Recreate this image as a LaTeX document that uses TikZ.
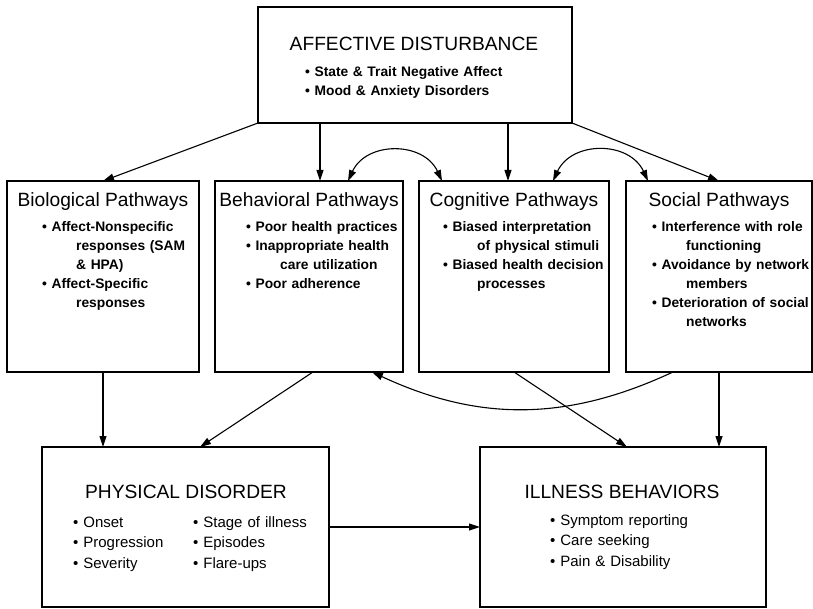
\documentclass[tikz,border=0pt]{standalone}
\usepackage{fontspec}
\setmainfont{Liberation Sans}
\usepackage{tikz}
\usetikzlibrary{positioning}
\usetikzlibrary{arrows.meta}

\tikzset{
  box/.style={draw, line width=1.3pt, inner sep=0pt, outer sep=0pt},
  hdr/.style={font=\fontsize{19.2}{22}\selectfont, inner sep=0pt},
  lst/.style={font=\fontsize{13.8}{19}\selectfont\bfseries, anchor=base west, inner sep=0pt, text width=250pt, align=left},
  bot/.style={font=\fontsize{15}{20.5}\selectfont, anchor=base west, inner sep=0pt, text width=200pt, align=left},
  arr/.style={-{Triangle[length=11pt,width=7pt]}, line width=1.1pt},
  dbl/.style={{Triangle[length=11pt,width=7pt]}-{Triangle[length=11pt,width=7pt]}, line width=1.1pt}
}
\newcommand{\bul}{\makebox[0.68em][l]{\textbullet}}
\newcommand{\cnt}{\hspace*{34pt}}

\begin{document}
\begin{tikzpicture}[x=1pt,y=-1pt]
\useasboundingbox (0,0) rectangle (813,609);
\node[box, minimum width=314pt, minimum height=116pt] (aff) at (415,65) {};
\node[box, minimum width=192pt, minimum height=191pt] (bio) at (103,276.5) {};
\node[box, minimum width=188pt, minimum height=191pt, right=16pt of bio] (beh) {};
\node[box, minimum width=190pt, minimum height=191pt, right=16pt of beh] (cog) {};
\node[box, minimum width=186pt, minimum height=191pt, right=17pt of cog] (soc) {};
\node[box, minimum width=287pt, minimum height=160pt] (phys) at (185.5,527) {};
\node[box, minimum width=286pt, minimum height=160pt] (ill) at (623,527) {};

\node[hdr] (afft) at (414,44) {AFFECTIVE DISTURBANCE};
\node[lst] (affl) at (305,77) {\bul State \& Trait Negative Affect\\ \bul Mood \& Anxiety Disorders};

\node[hdr] (biot) at ([yshift=-21pt]bio.north) {Biological Pathways};
\node[hdr] (beht) at ([yshift=-21pt]beh.north) {Behavioral Pathways};
\node[hdr] (cogt) at ([yshift=-21pt]cog.north) {Cognitive Pathways};
\node[hdr] (soct) at ([yshift=-21pt]soc.north) {Social Pathways};

\node[lst] (biol) at (42,231.5) {\bul Affect-Nonspecific\\ \cnt responses (SAM\\ \cnt \& HPA)\\ \bul Affect-Specific\\ \cnt responses};
\node[lst] (behl) at (246,231.5) {\bul Poor health practices\\ \bul Inappropriate health\\ \cnt care utilization\\ \bul Poor adherence};
\node[lst] (cogl) at (443,231.5) {\bul Biased interpretation\\ \cnt of physical stimuli\\ \bul Biased health decision\\ \cnt processes};
\node[lst] (socl) at (652,231.5) {\bul Interference with role\\ \cnt functioning\\ \bul Avoidance by network\\ \cnt members\\ \bul Deterioration of social\\ \cnt networks};

\node[hdr] (physt) at (186,492) {PHYSICAL DISORDER};
\node[bot] (physa) at (73,527) {\bul Onset\\ \bul Progression\\ \bul Severity};
\node[bot] (physb) at (193,527) {\bul Stage of illness\\ \bul Episodes\\ \bul Flare-ups};
\node[hdr] (illt) at (622,492) {ILLNESS BEHAVIORS};
\node[bot] (illl) at (550,525) {\bul Symptom reporting\\ \bul Care seeking\\ \bul Pain \& Disability};

\draw[arr] (aff.south west) -- (bio.north);
\draw[arr] ([xshift=62pt]aff.south west) -- ([xshift=62pt]aff.south west |- beh.north);
\draw[arr] ([xshift=-64pt]aff.south east) -- ([xshift=-64pt]aff.south east |- cog.north);
\draw[arr] (aff.south east) -- (soc.north);
\draw[dbl] ([xshift=39pt]beh.north) to[bend left=65, looseness=1.2] ([xshift=-72pt]cog.north);
\draw[dbl] ([xshift=39pt]cog.north) to[bend left=65, looseness=1.2] ([xshift=-71pt]soc.north);

\draw[arr] (bio.south) -- (bio.south |- phys.north);
\draw[arr] ([xshift=4pt]beh.south) -- ([xshift=14.5pt]phys.north);
\draw[arr] (cog.south) -- ([xshift=4pt]ill.north);
\draw[arr] (soc.south) -- (soc.south |- ill.north);
\draw[arr] ([xshift=-46pt]soc.south) to[bend left=25] ([xshift=63pt]beh.south);
\draw[arr] (phys.east) -- (ill.west);
\end{tikzpicture}
\end{document}
